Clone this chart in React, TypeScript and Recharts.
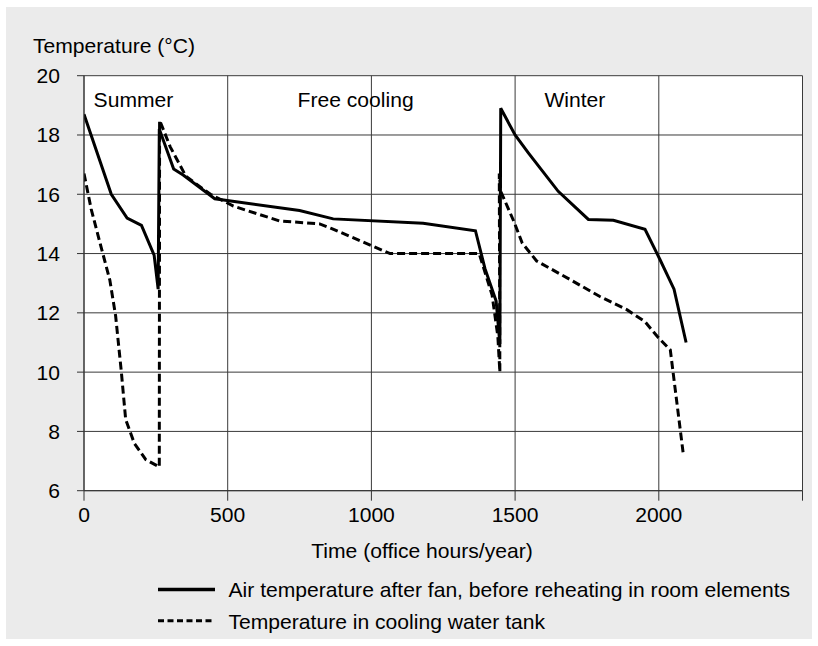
import React from 'react';
import { LineChart, Line, XAxis, YAxis, CartesianGrid, ReferenceDot } from 'recharts';

// Air temperature after fan, before reheating in room elements
const airHours = [0, 95, 150, 200, 244, 258, 262, 312, 345, 455, 750, 867, 1180, 1362, 1395, 1434, 1447, 1450, 1500, 1546, 1650, 1755, 1842, 1952, 2004, 2053, 2095];
const airTemp = [18.7, 16.0, 15.2, 14.95, 13.95, 12.8, 18.2, 16.85, 16.65, 15.85, 15.45, 15.17, 15.02, 14.77, 13.5, 12.4, 10.95, 18.9, 18.0, 17.4, 16.1, 15.15, 15.12, 14.82, 13.8, 12.8, 11.0];

// Temperature in cooling water tank
const tankHours = [0, 25, 60, 90, 110, 130, 145, 175, 215, 262, 263, 300, 355, 440, 520, 680, 820, 860, 1065, 1375, 1420, 1440, 1447, 1445, 1450, 1495, 1525, 1575, 1690, 1795, 1890, 1952, 1995, 2040, 2085];
const tankTemp = [16.7, 15.5, 14.2, 13.1, 11.9, 10.0, 8.4, 7.6, 7.05, 6.8, 18.5, 17.6, 16.6, 16.0, 15.6, 15.1, 15.0, 14.85, 14.0, 14.0, 12.6, 11.2, 10.0, 16.7, 16.1, 15.1, 14.35, 13.75, 13.13, 12.55, 12.1, 11.7, 11.2, 10.75, 7.25];

const xTicks = [0, 500, 1000, 1500, 2000, 2500];
const xTickLabels = ['0', '500', '1000', '1500', '2000', ''];
const yTicks = [6, 8, 10, 12, 14, 16, 18, 20];

const regionNames = ['Summer', 'Free cooling', 'Winter'];
const regionCenters = [172, 945, 1708];
const regionLevel = 19.2;

const seriesNames = ['Air temperature after fan, before reheating in room elements', 'Temperature in cooling water tank'];
const xTitle = 'Time (office hours/year)';
const yTitle = 'Temperature (°C)';

const airData = airHours.map((h, i) => ({ h, t: airTemp[i] }));
const tankData = tankHours.map((h, i) => ({ h, t: tankTemp[i] }));

const FONT = '"Liberation Sans", Arial, sans-serif';
const FS = 21.1;

export default function App() {
  return (
    <div style={{ position: 'absolute', left: 0, top: 0, width: 818, height: 646, background: '#fff', fontFamily: FONT }}>
      <div style={{ position: 'absolute', left: 6, top: 7, width: 806, height: 632, background: '#ebebeb' }} />
      <div style={{ position: 'absolute', left: 0, top: 0 }}>
        <LineChart width={818} height={646} data={airData} margin={{ top: 75.7, right: 15.5, bottom: 0, left: 0 }}>
          <CartesianGrid stroke="#3a3a3a" strokeWidth={1} fill="#fff" fillOpacity={1} horizontalValues={yTicks} verticalValues={xTicks} />
          <XAxis
            dataKey="h"
            type="number"
            domain={[0, 2500]}
            ticks={xTicks}
            tickFormatter={(v: number) => xTickLabels[xTicks.indexOf(v)] ?? ''}
            height={155.3}
            tickSize={10}
            tickMargin={6}
            stroke="#333"
            tick={{ fill: '#000', fontSize: FS, fontFamily: FONT }}
            allowDataOverflow
          />
          <YAxis
            type="number"
            domain={[6, 20]}
            ticks={yTicks}
            width={84}
            tickSize={7}
            tickMargin={17}
            stroke="#333"
            tick={{ fill: '#000', fontSize: FS, fontFamily: FONT }}
            allowDataOverflow
          />
          {regionNames.map((name, i) => (
            <ReferenceDot
              key={name}
              x={regionCenters[i]}
              y={regionLevel}
              r={0}
              fill="none"
              stroke="none"
              label={{ value: name, position: 'center', fill: '#000', fontSize: FS, fontFamily: FONT }}
            />
          ))}
          <Line data={tankData} dataKey="t" type="linear" stroke="#000" strokeWidth={3} strokeDasharray="8 4" dot={false} isAnimationActive={false} />
          <Line data={airData} dataKey="t" type="linear" stroke="#000" strokeWidth={3} dot={false} isAnimationActive={false} />
        </LineChart>
      </div>
      <svg width={818} height={646} style={{ position: 'absolute', left: 0, top: 0, pointerEvents: 'none' }}>
        <text x={33} y={52.5} fontSize={FS} fontFamily={FONT} fill="#000">{yTitle}</text>
        <text x={422} y={558} fontSize={FS} fontFamily={FONT} fill="#000" textAnchor="middle">{xTitle}</text>
        <line x1={158} x2={215} y1={589.5} y2={589.5} stroke="#000" strokeWidth={3.5} />
        <text x={228.5} y={597.3} fontSize={FS} fontFamily={FONT} fill="#000">{seriesNames[0]}</text>
        <line x1={158} x2={215} y1={620.7} y2={620.7} stroke="#000" strokeWidth={3} strokeDasharray="6 3.5" />
        <text x={228.5} y={629.3} fontSize={FS} fontFamily={FONT} fill="#000">{seriesNames[1]}</text>
      </svg>
    </div>
  );
}
